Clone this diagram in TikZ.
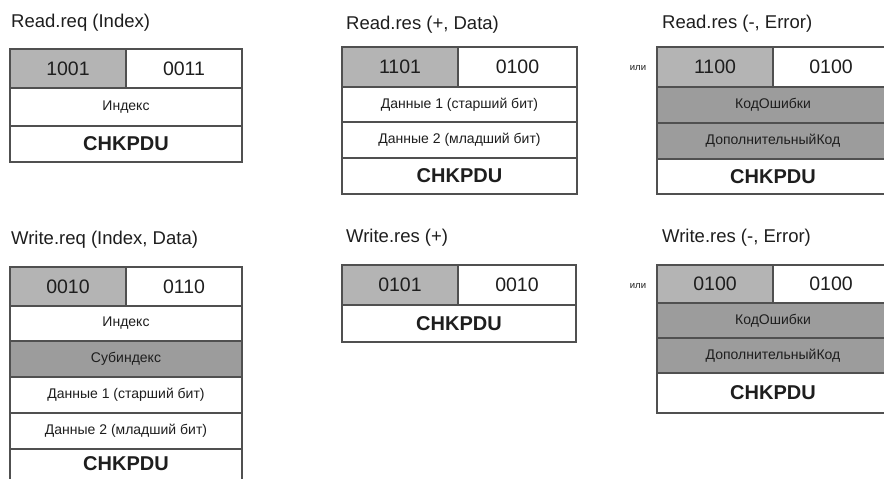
\documentclass[tikz,border=0pt]{standalone}
\usepackage{fontspec}
\setmainfont{Liberation Sans}
\definecolor{hdrgray}{HTML}{B4B4B4}
\definecolor{errgray}{HTML}{9C9C9C}
\definecolor{bordergray}{HTML}{505050}
\definecolor{inkgray}{HTML}{1E1E1E}
\tikzset{
  x=1pt,y=-1pt,
  cell/.style={draw=bordergray, line width=1.3pt, anchor=north west, inner sep=0pt, outer sep=0pt, align=center, text=inkgray},
  title/.style={anchor=west, inner sep=0pt, text=inkgray, font=\fontsize{18.5}{20}\selectfont},
  num/.style={font=\fontsize{19.5}{21}\selectfont},
  small/.style={font=\fontsize{14}{16}\selectfont},
  chk/.style={font=\fontsize{20}{22}\selectfont\bfseries},
  orlabel/.style={font=\fontsize{9.5}{10}\selectfont, inner sep=0pt, text=inkgray},
}
% cell: name, x0, y0, x1, y1, fill, style, text
\newcommand{\pcell}[8]{%
  \node[cell, fill=#6, minimum width=#4-#2, minimum height=#5-#3, #7] (#1) at (#2,#3) {#8};}
\begin{document}
\begin{tikzpicture}
\useasboundingbox (0,0) rectangle (884,479);
\clip (0,0) rectangle (884,479);
\fill[white] (0,0) rectangle (884,479);

% ---------- Read.req (Index)
\node[title] (tA) at (11,23) {Read.req (Index)};
\pcell{a1}{10}{49}{126}{88}{hdrgray}{num}{1001}
\pcell{a2}{126}{49}{242}{88}{white}{num}{0011}
\pcell{a3}{10}{88}{242}{126}{white}{small}{Индекс}
\pcell{a4}{10}{126}{242}{162}{white}{chk}{CHKPDU}

% ---------- Read.res (+, Data)
\node[title] (tB) at (346,25) {Read.res (+, Data)};
\pcell{b1}{342}{47}{458}{87}{hdrgray}{num}{1101}
\pcell{b2}{458}{47}{577}{87}{white}{num}{0100}
\pcell{b3}{342}{87}{577}{122}{white}{small}{Данные 1 (старший бит)}
\pcell{b4}{342}{122}{577}{158}{white}{small}{Данные 2 (младший бит)}
\pcell{b5}{342}{158}{577}{194}{white}{chk}{CHKPDU}

\node[orlabel] (orA) at (638,68) {или};

% ---------- Read.res (-, Error)
\node[title] (tC) at (662,24) {Read.res (-, Error)};
\pcell{c1}{657}{47}{773}{87}{hdrgray}{num}{1100}
\pcell{c2}{773}{47}{889}{87}{white}{num}{0100}
\pcell{c3}{657}{87}{889}{123}{errgray}{small}{КодОшибки}
\pcell{c4}{657}{123}{889}{159}{errgray}{small}{ДополнительныйКод}
\pcell{c5}{657}{159}{889}{194}{white}{chk}{CHKPDU}

% ---------- Write.req (Index, Data)
\node[title] (tD) at (11,240) {Write.req (Index, Data)};
\pcell{d1}{10}{267}{126}{306}{hdrgray}{num}{0010}
\pcell{d2}{126}{267}{242}{306}{white}{num}{0110}
\pcell{d3}{10}{306}{242}{341}{white}{small}{Индекс}
\pcell{d4}{10}{341}{242}{377}{errgray}{small}{Субиндекс}
\pcell{d5}{10}{377}{242}{413}{white}{small}{Данные 1 (старший бит)}
\pcell{d6}{10}{413}{242}{449}{white}{small}{Данные 2 (младший бит)}
\pcell{d7}{10}{449}{242}{489}{white}{chk,text depth=10pt}{CHKPDU}

% ---------- Write.res (+)
\node[title] (tE) at (346,238) {Write.res (+)};
\pcell{e1}{342}{265}{458}{305}{hdrgray}{num}{0101}
\pcell{e2}{458}{265}{576}{305}{white}{num}{0010}
\pcell{e3}{342}{305}{576}{342}{white}{chk}{CHKPDU}

\node[orlabel] (orB) at (638,286) {или};

% ---------- Write.res (-, Error)
\node[title] (tF) at (662,238) {Write.res (-, Error)};
\pcell{f1}{657}{265}{773}{303}{hdrgray}{num}{0100}
\pcell{f2}{773}{265}{889}{303}{white}{num}{0100}
\pcell{f3}{657}{303}{889}{338}{errgray}{small}{КодОшибки}
\pcell{f4}{657}{338}{889}{373}{errgray}{small}{ДополнительныйКод}
\pcell{f5}{657}{373}{889}{413}{white}{chk}{CHKPDU}
\end{tikzpicture}
\end{document}
